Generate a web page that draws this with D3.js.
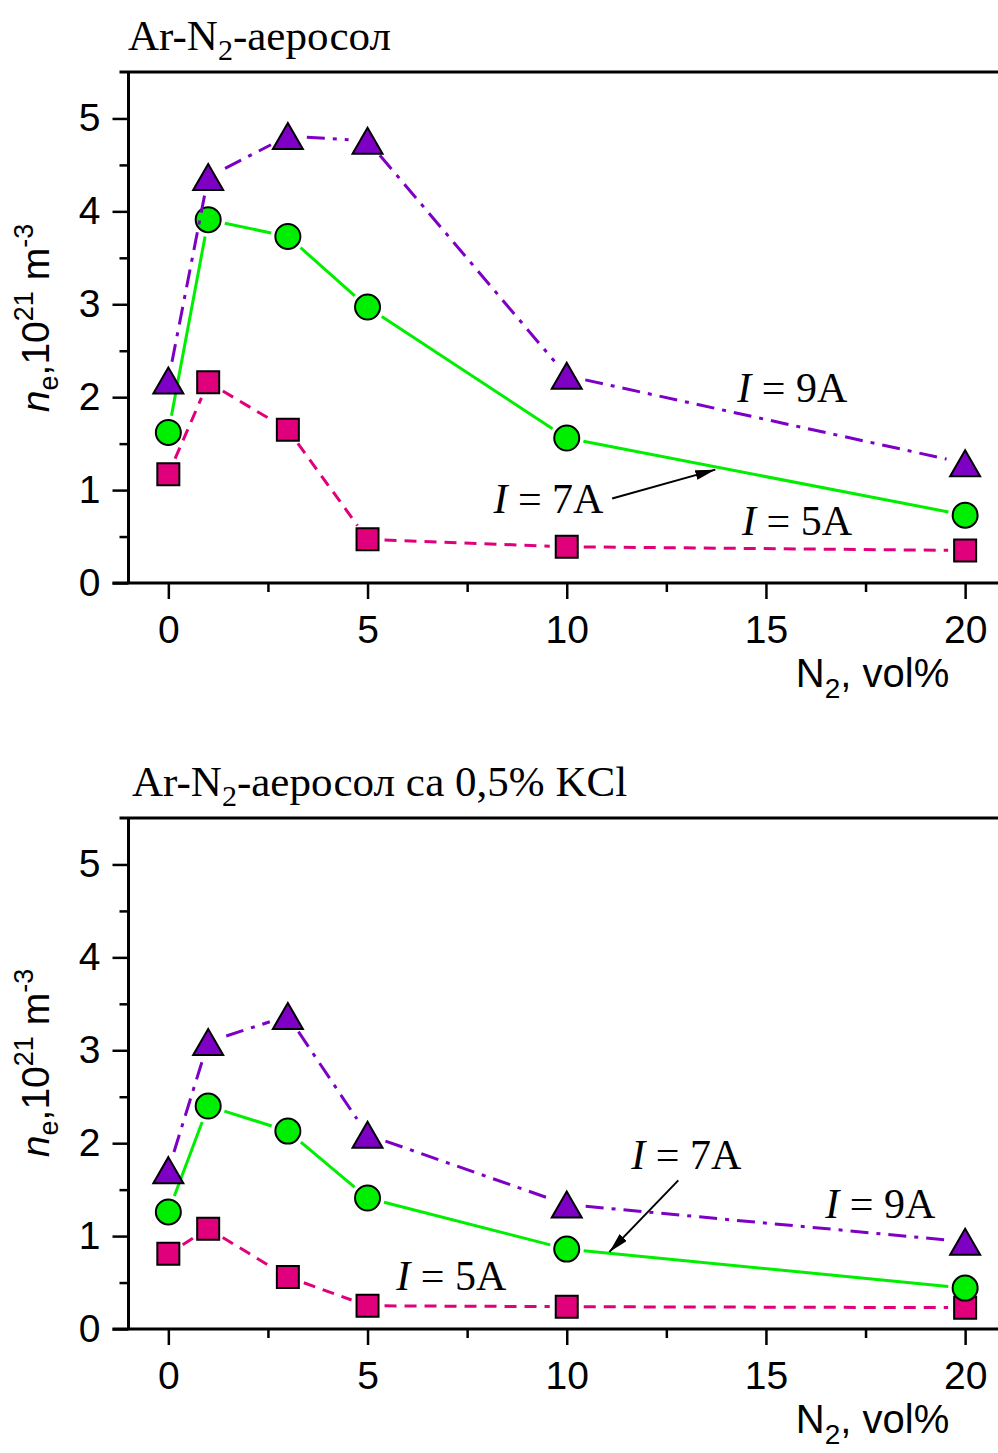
<!DOCTYPE html>
<html>
<head>
<meta charset="utf-8">
<script src="https://cdn.jsdelivr.net/npm/d3@7"></script>
<style>
  body { margin: 0; background: #fff; }
  svg { display: block; }
</style>
</head>
<body>
<svg id="chart" width="998" height="1453"></svg>
<script>
// N2 content, vol%
const n2 = [0, 1, 3, 5, 10, 20];

// electron density, 10^21 m^-3 (Ar-N2 aerosol)
const pureI9 = [2.18, 4.37, 4.81, 4.76, 2.23, 1.29];
const pureI7 = [1.62, 3.91, 3.73, 2.97, 1.56, 0.73];
const pureI5 = [1.17, 2.16, 1.65, 0.47, 0.39, 0.35];

// with 0.5% KCl
const kclI9 = [1.71, 3.09, 3.37, 2.09, 1.34, 0.94];
const kclI7 = [1.26, 2.40, 2.13, 1.41, 0.86, 0.44];
const kclI5 = [0.81, 1.08, 0.56, 0.25, 0.24, 0.23];

const xMajor = [0, 5, 10, 15, 20];
const xMinor = [2.5, 7.5, 12.5, 17.5];
const yMajor = [0, 1, 2, 3, 4, 5];
const yMinor = [0.5, 1.5, 2.5, 3.5, 4.5];

const purple = "#7d00c4";
const green = "#00ee00";
const magenta = "#e0007c";

const sansFont = "'Liberation Sans', Arial, sans-serif";
const serifFont = "'Liberation Serif', 'Times New Roman', serif";

const svg = d3.select("#chart");

svg.append("defs")
  .append("marker")
  .attr("id", "arrow")
  .attr("viewBox", "0 0 20 10")
  .attr("refX", 20)
  .attr("refY", 5)
  .attr("markerWidth", 20)
  .attr("markerHeight", 10)
  .attr("markerUnits", "userSpaceOnUse")
  .attr("orient", "auto")
  .append("path")
  .attr("d", "M0,0 L20,5 L0,10 Z")
  .attr("fill", "#000");

/**
 * Draws a marker shape of the given kind centered at 0,0
 */
function markerPath(kind) {
  if (kind === "triangle") return "M0,-13 L15,13 L-15,13 Z";
  if (kind === "square") return "M-11,-11 H11 V11 H-11 Z";
  return d3.arc()({ innerRadius: 0, outerRadius: 12.5, startAngle: 0, endAngle: 2 * Math.PI });
}

function drawPanel(cfg) {
  const x = d3.scaleLinear().domain([-1, 20.85]).range([128.5, 999]);
  const y = d3.scaleLinear().domain([0, 5.5]).range([cfg.bottom, cfg.bottom - 511]);
  const g = svg.append("g");

  // title
  const title = g.append("text")
    .attr("x", cfg.titleX)
    .attr("y", y(5.5) - 22)
    .style("font-family", serifFont)
    .style("font-size", "43px");
  title.append("tspan").text("Ar-N");
  title.append("tspan").attr("dy", 10).style("font-size", "30px").text("2");
  title.append("tspan").attr("dy", -10).text(cfg.title);

  // minor ticks
  g.append("g")
    .attr("transform", `translate(0,${y(0)})`)
    .call(d3.axisBottom(x).tickValues(xMinor).tickSize(9).tickFormat(""))
    .call(a => a.select(".domain").remove());
  g.append("g")
    .attr("transform", `translate(${x(-1)},0)`)
    .call(d3.axisLeft(y).tickValues(yMinor).tickSize(9).tickFormat(""))
    .call(a => a.select(".domain").remove());

  // major ticks
  const xAxis = g.append("g")
    .attr("transform", `translate(0,${y(0)})`)
    .call(d3.axisBottom(x).tickValues(xMajor).tickSize(16).tickPadding(16).tickFormat(d3.format("d")))
    .call(a => a.select(".domain").remove());
  const yAxis = g.append("g")
    .attr("transform", `translate(${x(-1)},0)`)
    .call(d3.axisLeft(y).tickValues(yMajor).tickSize(16).tickPadding(12).tickFormat(d3.format("d")))
    .call(a => a.select(".domain").remove());

  g.selectAll(".tick line").attr("stroke", "#000").attr("stroke-width", 2.5);
  [xAxis, yAxis].forEach(a =>
    a.selectAll("text")
      .attr("fill", "#000")
      .style("font-family", sansFont)
      .style("font-size", "39px")
  );

  // frame lines
  g.append("line")
    .attr("x1", x(-1) - 16).attr("x2", x(20.85))
    .attr("y1", y(0)).attr("y2", y(0))
    .attr("stroke", "#000").attr("stroke-width", 3);
  g.append("line")
    .attr("x1", x(-1) - 9).attr("x2", x(20.85))
    .attr("y1", y(5.5)).attr("y2", y(5.5))
    .attr("stroke", "#000").attr("stroke-width", 3);
  g.append("line")
    .attr("x1", x(-1)).attr("x2", x(-1))
    .attr("y1", y(5.5)).attr("y2", y(0))
    .attr("stroke", "#000").attr("stroke-width", 3);

  // axis titles
  const yl = g.append("text")
    .attr("transform", `translate(49,${cfg.yLabelY}) rotate(-90)`)
    .attr("text-anchor", "middle")
    .style("font-family", sansFont)
    .style("font-size", "39px");
  yl.append("tspan").style("font-style", "italic").text("n");
  yl.append("tspan").attr("dy", 9).style("font-size", "27px").text("e");
  yl.append("tspan").attr("dy", -9).text(",10");
  yl.append("tspan").attr("dy", -16).style("font-size", "27px").text("21");
  yl.append("tspan").attr("dy", 16).text(" m");
  yl.append("tspan").attr("dy", -16).style("font-size", "27px").text("-3");

  const xl = g.append("text")
    .attr("x", x(15.75))
    .attr("y", y(0) + 104)
    .style("font-family", sansFont)
    .style("font-size", "40px");
  xl.append("tspan").text("N");
  xl.append("tspan").attr("dy", 11).style("font-size", "28px").text("2");
  xl.append("tspan").attr("dy", -11).text(", vol%");

  // series: drawn 5A, 7A, 9A so the 9A line sits on top
  cfg.series.forEach(s => {
    const pts = n2.map((v, i) => [x(v), y(s.values[i])]);
    const segs = d3.pairs(pts).map(([p, q]) => {
      const dx = q[0] - p[0], dy = q[1] - p[1];
      const d = Math.hypot(dx, dy);
      const ux = dx / d, uy = dy / d;
      return [[p[0] + ux * s.gap, p[1] + uy * s.gap], [q[0] - ux * s.gap, q[1] - uy * s.gap], d];
    }).filter(sg => sg[2] > 2 * s.gap);

    g.selectAll(null)
      .data(segs)
      .join("line")
      .attr("x1", d => d[0][0]).attr("y1", d => d[0][1])
      .attr("x2", d => d[1][0]).attr("y2", d => d[1][1])
      .attr("stroke", s.line)
      .attr("stroke-width", 3)
      .attr("stroke-dasharray", s.dash);

    g.selectAll(null)
      .data(pts)
      .join("path")
      .attr("transform", d => `translate(${d[0]},${d[1]})`)
      .attr("d", markerPath(s.marker))
      .attr("fill", s.fill)
      .attr("stroke", "#000")
      .attr("stroke-width", 2);
  });

  // current labels
  cfg.labels.forEach(l => {
    const t = g.append("text")
      .attr("x", x(l.x))
      .attr("y", y(l.y))
      .style("font-family", serifFont)
      .style("font-size", "42px");
    t.append("tspan").style("font-style", "italic").text("I");
    t.append("tspan").text(" = " + l.text);
  });

  g.append("line")
    .attr("x1", x(cfg.arrow[0])).attr("y1", y(cfg.arrow[1]))
    .attr("x2", x(cfg.arrow[2])).attr("y2", y(cfg.arrow[3]))
    .attr("stroke", "#000")
    .attr("stroke-width", 2)
    .attr("marker-end", "url(#arrow)");
}

function seriesFor(i5, i7, i9) {
  return [
    { values: i5, marker: "square", fill: magenta, line: magenta, dash: "12,8", gap: 17 },
    { values: i7, marker: "circle", fill: green, line: green, dash: null, gap: 17 },
    { values: i9, marker: "triangle", fill: purple, line: purple, dash: "18,8,4,8", gap: 19 },
  ];
}

drawPanel({
  bottom: 583,
  title: "-аеросол",
  titleX: 128,
  yLabelY: 318,
  series: seriesFor(pureI5, pureI7, pureI9),
  labels: [
    { text: "9A", x: 14.28, y: 1.95 },
    { text: "7A", x: 8.16, y: 0.75 },
    { text: "5A", x: 14.4, y: 0.52 },
  ],
  arrow: [11.14, 0.91, 13.73, 1.22],
});

drawPanel({
  bottom: 1329,
  title: "-аеросол са 0,5% KCl",
  titleX: 132,
  yLabelY: 1063,
  series: seriesFor(kclI5, kclI7, kclI9),
  labels: [
    { text: "7A", x: 11.62, y: 1.72 },
    { text: "9A", x: 16.49, y: 1.2 },
    { text: "5A", x: 5.72, y: 0.42 },
  ],
  arrow: [12.8, 1.6, 11.07, 0.83],
});
</script>
</body>
</html>
